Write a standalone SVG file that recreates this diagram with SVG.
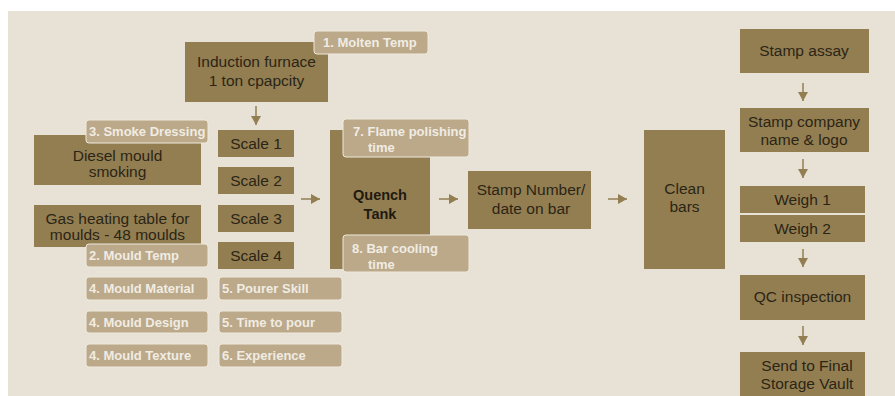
<svg xmlns="http://www.w3.org/2000/svg" width="895" height="396" viewBox="0 0 895 396">
<defs>
<marker id="ah" markerUnits="userSpaceOnUse" markerWidth="10" markerHeight="10" refX="9" refY="5" orient="auto">
<path d="M0,0 L9,5 L0,10 z" fill="#937E52"/>
</marker>
<style>
.box{fill:#937E52}
.bt{font-family:"Liberation Sans",Arial,sans-serif;font-size:15.5px;fill:#2B2515;text-anchor:middle}
.qt{font-family:"Liberation Sans",Arial,sans-serif;font-size:14.5px;font-weight:bold;fill:#1F1A10;text-anchor:middle}
.lb{fill:#BBA98A;stroke:#EFE9DE;stroke-width:1}
.lt{font-family:"Liberation Sans",Arial,sans-serif;font-size:13px;font-weight:bold;fill:#F1ECE3}
.ar{stroke:#937E52;stroke-width:1.5;fill:none;marker-end:url(#ah)}
</style>
</defs>
<rect x="0" y="0" width="895" height="396" fill="#FFFFFF"/>
<rect x="8" y="11" width="887" height="385" fill="#E8E2D6"/>

<g id="connectors">
<line class="ar" x1="256" y1="106" x2="256" y2="125"/>
<line class="ar" x1="803" y1="83" x2="803" y2="101"/>
<line class="ar" x1="803" y1="159" x2="803" y2="178"/>
<line class="ar" x1="803" y1="249" x2="803" y2="267"/>
<line class="ar" x1="803" y1="326" x2="803" y2="345"/>
<line class="ar" x1="301" y1="199" x2="320" y2="199"/>
<line class="ar" x1="439" y1="199" x2="458" y2="199"/>
<line class="ar" x1="608" y1="199" x2="627" y2="199"/>
</g>

<g id="furnace">
<rect class="box" x="185" y="42" width="143" height="60"/>
<text class="bt" x="256.5" y="67">Induction furnace</text>
<text class="bt" x="256.5" y="86">1 ton cpapcity</text>
</g>
<g id="label-molten">
<rect class="lb" x="314" y="31" width="114" height="23" rx="3"/>
<text class="lt" x="323" y="47">1. Molten Temp</text>
</g>

<g id="diesel">
<rect class="box" x="34" y="135" width="167" height="50"/>
<text class="bt" x="117.5" y="161">Diesel mould</text>
<text class="bt" x="117.5" y="176.5">smoking</text>
</g>
<g id="label-smoke">
<rect class="lb" x="86" y="120" width="122" height="23" rx="3"/>
<text class="lt" x="89" y="136">3. Smoke Dressing</text>
</g>

<g id="gas">
<rect class="box" x="34" y="205" width="167" height="42"/>
<text class="bt" x="117.5" y="224">Gas heating table for</text>
<text class="bt" x="117.5" y="239.5">moulds - 48 moulds</text>
</g>

<g id="scale1"><rect class="box" x="218" y="130" width="76" height="27"/><text class="bt" x="256" y="149">Scale 1</text></g>
<g id="scale2"><rect class="box" x="218" y="167" width="76" height="27"/><text class="bt" x="256" y="186">Scale 2</text></g>
<g id="scale3"><rect class="box" x="218" y="205" width="76" height="27"/><text class="bt" x="256" y="224">Scale 3</text></g>
<g id="scale4"><rect class="box" x="218" y="242" width="76" height="27"/><text class="bt" x="256" y="261">Scale 4</text></g>

<g id="label-mould-temp"><rect class="lb" x="86" y="244" width="122" height="23" rx="3"/><text class="lt" x="89" y="260">2. Mould Temp</text></g>
<g id="label-mould-material"><rect class="lb" x="86" y="277" width="122" height="23" rx="3"/><text class="lt" x="89" y="293">4. Mould Material</text></g>
<g id="label-mould-design"><rect class="lb" x="86" y="311" width="122" height="22" rx="3"/><text class="lt" x="89" y="327">4. Mould Design</text></g>
<g id="label-mould-texture"><rect class="lb" x="86" y="344" width="122" height="23" rx="3"/><text class="lt" x="89" y="360">4. Mould Texture</text></g>
<g id="label-pourer"><rect class="lb" x="219" y="277" width="123" height="23" rx="3"/><text class="lt" x="222" y="293">5. Pourer Skill</text></g>
<g id="label-time-pour"><rect class="lb" x="219" y="311" width="123" height="22" rx="3"/><text class="lt" x="222" y="327">5. Time to pour</text></g>
<g id="label-experience"><rect class="lb" x="219" y="344" width="123" height="23" rx="3"/><text class="lt" x="222" y="360">6. Experience</text></g>

<g id="quench">
<rect class="box" x="330" y="130" width="100" height="139"/>
<text class="qt" x="380" y="200">Quench</text>
<text class="qt" x="380" y="219">Tank</text>
</g>
<g id="label-flame">
<rect class="lb" x="343" y="119" width="126" height="38" rx="3"/>
<text class="lt" x="353" y="136">7. Flame polishing</text>
<text class="lt" x="368" y="152">time</text>
</g>
<g id="label-cooling">
<rect class="lb" x="343" y="235" width="126" height="37" rx="3"/>
<text class="lt" x="352" y="253">8. Bar cooling</text>
<text class="lt" x="368" y="269">time</text>
</g>

<g id="stamp-number">
<rect class="box" x="468" y="171" width="123" height="58"/>
<text class="bt" x="531" y="195">Stamp Number/</text>
<text class="bt" x="531" y="214">date on bar</text>
</g>

<g id="clean">
<rect class="box" x="644" y="130" width="81" height="139"/>
<text class="bt" x="684.5" y="194">Clean</text>
<text class="bt" x="684.5" y="212">bars</text>
</g>

<g id="stamp-assay"><rect class="box" x="740" y="29" width="129" height="44"/><text class="bt" x="804" y="56">Stamp assay</text></g>
<g id="stamp-company"><rect class="box" x="740" y="108" width="129" height="44"/><text class="bt" x="804" y="127">Stamp company</text><text class="bt" x="804" y="145">name &amp; logo</text></g>
<g id="weigh1"><rect class="box" x="740" y="186" width="125" height="27"/><text class="bt" x="802.5" y="204.5">Weigh 1</text></g>
<g id="weigh2"><rect class="box" x="740" y="215" width="125" height="27"/><text class="bt" x="802.5" y="234">Weigh 2</text></g>
<g id="qc"><rect class="box" x="740" y="275" width="125" height="45"/><text class="bt" x="802.5" y="302">QC inspection</text></g>
<g id="final"><rect class="box" x="740" y="352" width="125" height="50"/><text class="bt" x="807" y="371">Send to Final</text><text class="bt" x="807" y="389">Storage Vault</text></g>
</svg>
